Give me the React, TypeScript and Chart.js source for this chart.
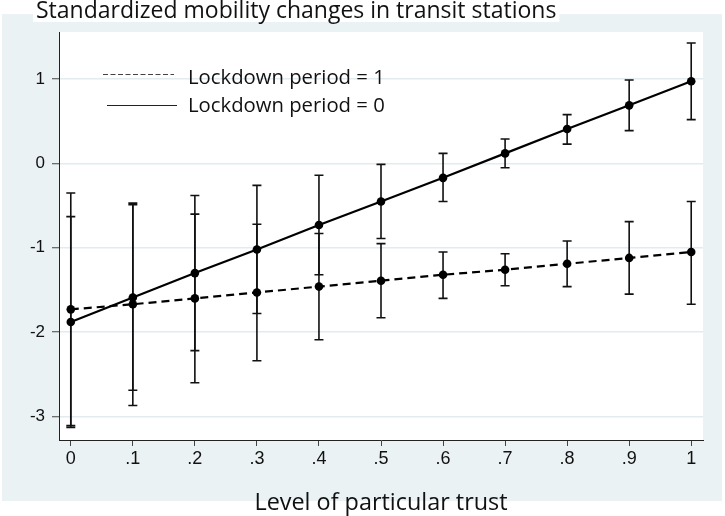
import React, { useEffect, useRef } from 'react';
import { Chart, registerables } from 'chart.js';

Chart.register(...registerables);

const chartTitle = 'Standardized mobility changes in transit stations';
const xAxisTitle = 'Level of particular trust';
const seriesNames = ['Lockdown period = 1', 'Lockdown period = 0'];

const trustLevels = [0, 0.1, 0.2, 0.3, 0.4, 0.5, 0.6, 0.7, 0.8, 0.9, 1];
const xTickLabels = ['0', '.1', '.2', '.3', '.4', '.5', '.6', '.7', '.8', '.9', '1'];
const yTickValues = [-3, -2, -1, 0, 1];
const yTickLabels = ['-3', '-2', '-1', '0', '1'];

// Lockdown period = 1 (dashed)
const lockdown1Mean = [-1.73, -1.67, -1.6, -1.53, -1.46, -1.39, -1.32, -1.26, -1.19, -1.12, -1.05];
const lockdown1Low = [-3.11, -2.87, -2.6, -2.34, -2.09, -1.83, -1.6, -1.45, -1.46, -1.55, -1.67];
const lockdown1High = [-0.35, -0.47, -0.6, -0.72, -0.83, -0.95, -1.05, -1.07, -0.92, -0.69, -0.45];

// Lockdown period = 0 (solid)
const lockdown0Mean = [-1.88, -1.59, -1.3, -1.02, -0.73, -0.45, -0.17, 0.12, 0.41, 0.69, 0.975];
const lockdown0Low = [-3.13, -2.69, -2.22, -1.78, -1.32, -0.89, -0.45, -0.05, 0.23, 0.39, 0.52];
const lockdown0High = [-0.63, -0.49, -0.38, -0.26, -0.14, -0.01, 0.12, 0.29, 0.58, 0.99, 1.43];

const PANEL_BG = '#eaf2f3';
const TEXT_FONT = '"Open Sans", Lato, sans-serif';
const TICK_FONT = '"Liberation Sans", Arial, sans-serif';

const errorBarPlugin = {
  id: 'errorBars',
  beforeDatasetsDraw(chart: any) {
    const { ctx } = chart;
    const xs = chart.scales.x;
    const ys = chart.scales.y;
    ctx.save();
    ctx.strokeStyle = '#111';
    ctx.lineWidth = 1.6;
    ctx.setLineDash([]);
    chart.data.datasets.forEach((ds: any) => {
      const lows: number[] = ds.errLow;
      const highs: number[] = ds.errHigh;
      lows.forEach((lo, i) => {
        const px = xs.getPixelForValue(trustLevels[i]);
        const pl = ys.getPixelForValue(lo);
        const ph = ys.getPixelForValue(highs[i]);
        const cap = 4.5;
        ctx.beginPath();
        ctx.moveTo(px, pl);
        ctx.lineTo(px, ph);
        ctx.moveTo(px - cap, pl);
        ctx.lineTo(px + cap, pl);
        ctx.moveTo(px - cap, ph);
        ctx.lineTo(px + cap, ph);
        ctx.stroke();
      });
    });
    ctx.restore();
  },
};

const decorPlugin = {
  id: 'decor',
  beforeDraw(chart: any) {
    const { ctx, width, height, chartArea } = chart;
    ctx.save();
    ctx.fillStyle = '#ffffff';
    ctx.fillRect(0, 0, width, height);
    ctx.fillStyle = PANEL_BG;
    ctx.fillRect(2, 14, width - 5, 501 - 14);
    ctx.fillStyle = '#ffffff';
    ctx.fillRect(chartArea.left, chartArea.top, chartArea.right - chartArea.left, chartArea.bottom - chartArea.top);
    // white box behind the title
    ctx.font = `23px ${TEXT_FONT}`;
    const tw = ctx.measureText(chartTitle).width;
    ctx.fillRect(33, 0, tw + 6, 22);
    ctx.restore();
  },
  afterDraw(chart: any) {
    const { ctx, chartArea } = chart;
    ctx.save();
    ctx.fillStyle = '#111';
    ctx.textBaseline = 'alphabetic';
    ctx.textAlign = 'left';
    ctx.font = `23px ${TEXT_FONT}`;
    ctx.fillText(chartTitle, 36, 17.5);

    // legend
    const lx = chartArea.left;
    const ty = chartArea.top;
    ctx.strokeStyle = '#444';
    ctx.lineWidth = 1;
    ctx.setLineDash([5, 2.5]);
    ctx.beginPath();
    ctx.moveTo(lx + 44, ty + 42.5);
    ctx.lineTo(lx + 115, ty + 42.5);
    ctx.stroke();
    ctx.setLineDash([]);
    ctx.strokeStyle = '#222';
    ctx.lineWidth = 1.2;
    ctx.beginPath();
    ctx.moveTo(lx + 48, ty + 73.5);
    ctx.lineTo(lx + 118, ty + 73.5);
    ctx.stroke();
    ctx.font = `20.3px ${TEXT_FONT}`;
    ctx.textBaseline = 'alphabetic';
    ctx.fillText(seriesNames[0], lx + 129, ty + 52);
    ctx.fillText(seriesNames[1], lx + 129, ty + 79.5);

    // x axis title
    ctx.font = `23.4px ${TEXT_FONT}`;
    ctx.textAlign = 'center';
    ctx.textBaseline = 'alphabetic';
    ctx.fillText(xAxisTitle, (chartArea.left + chartArea.right) / 2, 509.5);
    ctx.restore();
  },
};

export default function App() {
  const canvasRef = useRef<HTMLCanvasElement | null>(null);

  useEffect(() => {
    const canvas = canvasRef.current;
    if (!canvas) return;
    const chart = new Chart(canvas, {
      type: 'line',
      data: {
        datasets: [
          {
            label: seriesNames[0],
            data: trustLevels.map((x, i) => ({ x, y: lockdown1Mean[i] })),
            errLow: lockdown1Low,
            errHigh: lockdown1High,
            borderColor: '#000',
            backgroundColor: '#000',
            borderWidth: 2.2,
            borderDash: [8, 5],
            pointRadius: 4.3,
            pointBackgroundColor: '#000',
            pointBorderWidth: 0,
            tension: 0,
          } as any,
          {
            label: seriesNames[1],
            data: trustLevels.map((x, i) => ({ x, y: lockdown0Mean[i] })),
            errLow: lockdown0Low,
            errHigh: lockdown0High,
            borderColor: '#000',
            backgroundColor: '#000',
            borderWidth: 2.2,
            pointRadius: 4.3,
            pointBackgroundColor: '#000',
            pointBorderWidth: 0,
            tension: 0,
          } as any,
        ],
      },
      options: {
        animation: false,
        responsive: false,
        maintainAspectRatio: false,
        devicePixelRatio: 1,
        layout: { padding: { top: 32, right: 22, bottom: 0, left: 0 } },
        plugins: {
          legend: { display: false },
          title: { display: false },
          tooltip: { enabled: false },
        },
        scales: {
          x: {
            type: 'linear',
            min: -0.019,
            max: 1.019,
            afterFit: (scale: any) => {
              scale.height = 76;
            },
            afterBuildTicks: (scale: any) => {
              scale.ticks = trustLevels.map((v) => ({ value: v }));
            },
            ticks: {
              autoSkip: false,
              maxRotation: 0,
              padding: 2,
              color: '#111',
              font: { family: TICK_FONT, size: 18 },
              callback: (_v: any, i: number) => xTickLabels[i],
            },
            grid: {
              drawOnChartArea: false,
              drawTicks: true,
              tickLength: 6,
              tickColor: '#444',
              tickWidth: 1,
            },
            border: { display: true, color: '#222', width: 1 },
          },
          y: {
            type: 'linear',
            min: -3.28,
            max: 1.56,
            afterFit: (scale: any) => {
              scale.width = 59;
            },
            afterBuildTicks: (scale: any) => {
              scale.ticks = yTickValues.map((v) => ({ value: v }));
            },
            ticks: {
              padding: 7,
              color: '#111',
              font: { family: TICK_FONT, size: 17 },
              callback: (_v: any, i: number) => yTickLabels[i],
            },
            grid: {
              color: '#e2ecef',
              lineWidth: 1.5,
              drawTicks: true,
              tickLength: 7,
              tickColor: '#444',
              tickWidth: 1,
            },
            border: { display: true, color: '#222', width: 1 },
          },
        },
      },
      plugins: [decorPlugin, errorBarPlugin],
    } as any);
    return () => chart.destroy();
  }, []);

  return (
    <div style={{ position: 'fixed', left: 0, top: 0, width: 725, height: 516 }}>
      <canvas ref={canvasRef} width={725} height={516} style={{ width: 725, height: 516, display: 'block' }} />
    </div>
  );
}
